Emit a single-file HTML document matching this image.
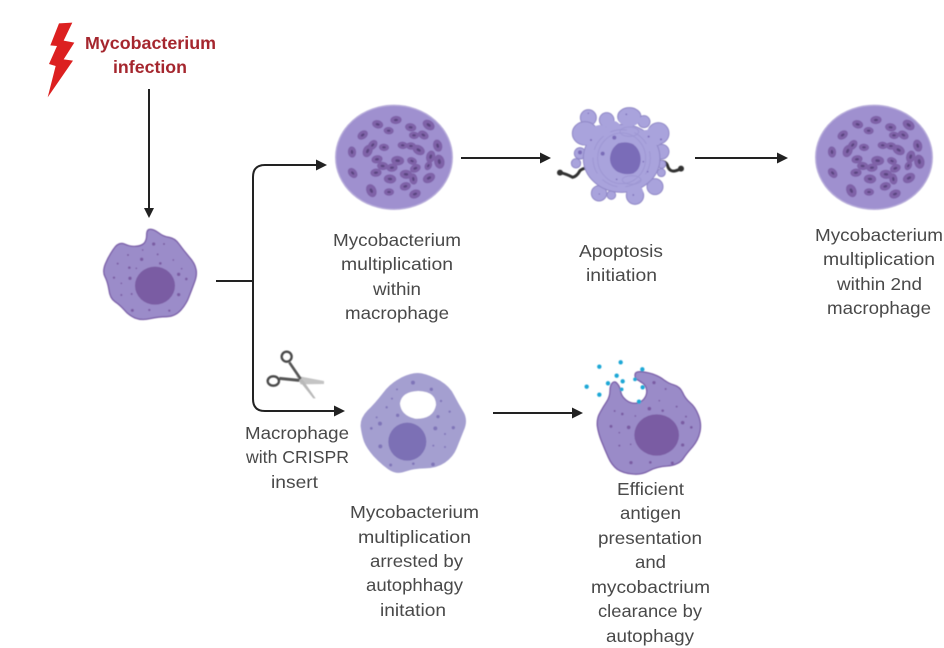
<!DOCTYPE html>
<html><head><meta charset="utf-8"><style>
html,body{margin:0;padding:0;background:#fff}
svg{display:block}
text{font-family:"Liberation Sans",sans-serif;font-size:17.5px;fill:#4a4a4a;text-anchor:middle}
.t{font-weight:bold;fill:#a5282e}
</style></head><body>
<svg width="944" height="648" viewBox="0 0 944 648" xmlns="http://www.w3.org/2000/svg">
<defs>
<filter id="s" x="-5%" y="-5%" width="110%" height="110%"><feGaussianBlur stdDeviation="1.800"/></filter>
<filter id="tx" filterUnits="userSpaceOnUse" x="0" y="0" width="944" height="648"><feGaussianBlur stdDeviation="0.300"/></filter>
<g id="b"><ellipse rx="17" ry="12.500" fill="#7f62a8"/><ellipse rx="6" ry="3.500" fill="#5a4480"/></g>
<g id="cell">
<ellipse cx="192" cy="187" rx="175" ry="156" fill="#9f90cf" stroke="#b9aedb" stroke-width="4"/>
<use href="#b" transform="translate(198 75) rotate(-5)"/>
<use href="#b" transform="translate(143 88) rotate(15)"/>
<use href="#b" transform="translate(176 107) rotate(5) scale(.9)"/>
<use href="#b" transform="translate(98 120) rotate(-35)"/>
<use href="#b" transform="translate(242 97) rotate(10)"/>
<use href="#b" transform="translate(296 90) rotate(35) scale(1.15)"/>
<use href="#b" transform="translate(252 121) rotate(5) scale(.9)"/>
<use href="#b" transform="translate(280 120) rotate(30)"/>
<use href="#b" transform="translate(323 152) rotate(75) scale(1.1)"/>
<use href="#b" transform="translate(66 171) rotate(85)"/>
<use href="#b" transform="translate(113 168) rotate(-65) scale(1.15)"/>
<use href="#b" transform="translate(128 150) rotate(-50)"/>
<use href="#b" transform="translate(162 157) rotate(5) scale(.9)"/>
<use href="#b" transform="translate(218 151) rotate(5) scale(.9)"/>
<use href="#b" transform="translate(243 153) rotate(5) scale(.9)"/>
<use href="#b" transform="translate(266 165) rotate(30) scale(1.15)"/>
<use href="#b" transform="translate(302 185) rotate(-75) scale(1.1)"/>
<use href="#b" transform="translate(328 200) rotate(80) scale(1.25)"/>
<use href="#b" transform="translate(295 212) rotate(-60) scale(.85)"/>
<use href="#b" transform="translate(141 193) rotate(-10)"/>
<use href="#b" transform="translate(158 213) rotate(5)"/>
<use href="#b" transform="translate(186 218) rotate(-5)"/>
<use href="#b" transform="translate(203 197) rotate(5) scale(1.15)"/>
<use href="#b" transform="translate(246 198) rotate(20) scale(.9)"/>
<use href="#b" transform="translate(256 220) rotate(-25)"/>
<use href="#b" transform="translate(228 238) rotate(5) scale(1.1)"/>
<use href="#b" transform="translate(250 252) rotate(80)"/>
<use href="#b" transform="translate(297 249) rotate(-30) scale(1.15)"/>
<use href="#b" transform="translate(68 234) rotate(50)"/>
<use href="#b" transform="translate(138 233) rotate(-5)"/>
<use href="#b" transform="translate(180 252) rotate(5) scale(1.1)"/>
<use href="#b" transform="translate(124 287) rotate(65) scale(1.2)"/>
<use href="#b" transform="translate(177 291) rotate(0) scale(.9)"/>
<use href="#b" transform="translate(226 274) rotate(-15)"/>
<use href="#b" transform="translate(255 297) rotate(-20) scale(1.05)"/>
</g>
</defs>

<!-- lightning -->
<polygon transform="translate(45 20) scale(.3333)" fill="#dc2020" points="42,10 82,8 56,62 88,68 56,118 84,122 8,232 32,138 12,132 36,78 16,76"/>

<!-- connectors -->
<g fill="none" stroke="#222" stroke-width="2">
<path d="M149 89V209"/>
<path d="M216 281H253"/>
<path d="M317 165H265Q253 165 253 177V399Q253 411 265 411H336"/>
<path d="M461 158H541"/>
<path d="M695 158H778"/>
<path d="M493 413H573"/>
</g>
<g fill="#222">
<polygon points="149,218 144,208 154,208"/>
<polygon points="327,165 316,159.500 316,170.500"/>
<polygon points="345,411 334,405.500 334,416.500"/>
<polygon points="551,158 540,152.500 540,163.500"/>
<polygon points="788,158 777,152.500 777,163.500"/>
<polygon points="583,413 572,407.500 572,418.500"/>
</g>

<!-- macrophage 1 -->
<g transform="translate(95 220) scale(.3333)" filter="url(#s)">
<path fill="#9b8cc9" stroke="#7a5fa8" stroke-width="4" d="M155,45 Q155,28 165,28 Q175,27 190,38 Q205,50 222,52 Q240,55 252,72 Q265,90 282,110 Q300,130 303,148 Q307,165 298,188 Q290,210 282,230 Q275,250 258,270 Q240,290 215,290 Q190,290 165,296 Q140,302 120,294 Q100,285 88,270 Q75,255 60,245 Q45,235 42,210 Q38,185 30,170 Q22,155 31,132 Q40,110 55,88 Q70,65 88,72 Q105,80 122,79 Q140,78 148,69 Q155,60 155,45Z"/>
<ellipse cx="180" cy="197" rx="60" ry="57" fill="#7a5ca3"/>
<g fill="#7a5ca3"><circle cx="176" cy="72" r="5"/><circle cx="207" cy="72" r="3"/><circle cx="140" cy="118" r="5"/><circle cx="99" cy="105" r="3"/><circle cx="143" cy="90" r="2.500"/><circle cx="188" cy="103" r="3"/><circle cx="196" cy="130" r="4"/><circle cx="235" cy="120" r="2.500"/><circle cx="68" cy="131" r="3"/><circle cx="103" cy="143" r="4"/><circle cx="124" cy="145" r="2.500"/><circle cx="260" cy="146" r="2.500"/><circle cx="251" cy="163" r="5"/><circle cx="274" cy="177" r="4"/><circle cx="57" cy="173" r="3.500"/><circle cx="105" cy="175" r="5"/><circle cx="79" cy="190" r="2.500"/><circle cx="251" cy="224" r="5"/><circle cx="79" cy="225" r="3"/><circle cx="110" cy="222" r="3"/><circle cx="112" cy="271" r="4.500"/><circle cx="163" cy="270" r="3.500"/><circle cx="223" cy="272" r="3.500"/></g>
</g>

<!-- multiplying cells -->
<g transform="translate(330 95) scale(.3333)" filter="url(#s)"><use href="#cell"/></g>
<g transform="translate(810 95) scale(.3333)" filter="url(#s)"><use href="#cell"/></g>

<!-- apoptosis -->
<g transform="translate(570 105) scale(.3333)" filter="url(#s)">
<g fill="none" stroke="#333" stroke-width="9" stroke-linecap="round"><path d="M-28,203 Q-10,207 8,217 Q20,215 30,197 Q44,185 60,193"/><path d="M260,170 Q285,165 292,180 Q298,203 318,197 L335,191"/></g>
<circle cx="-30" cy="203" r="9" fill="#333"/><circle cx="333" cy="191" r="9" fill="#333"/>
<g fill="#a9a3dc" stroke="#8f87c6" stroke-width="3">
<circle cx="55" cy="38" r="24"/><circle cx="110" cy="45" r="22"/><ellipse cx="178" cy="35" rx="35" ry="27"/>
<circle cx="222" cy="50" r="18"/><ellipse cx="45" cy="85" rx="38" ry="35"/><circle cx="265" cy="85" r="32"/>
<circle cx="30" cy="145" r="17"/><circle cx="18" cy="175" r="14"/><circle cx="275" cy="140" r="22"/>
<circle cx="275" cy="178" r="12"/><circle cx="274" cy="203" r="12"/><circle cx="255" cy="245" r="24"/>
<circle cx="87" cy="265" r="23"/><circle cx="124" cy="270" r="13"/><circle cx="195" cy="272" r="26"/>
<ellipse cx="155" cy="160" rx="115" ry="102"/>
</g>
<g fill="#a9a3dc"><ellipse cx="48" cy="88" rx="36" ry="32"/><ellipse cx="178" cy="40" rx="33" ry="24"/><circle cx="255" cy="92" r="29"/><circle cx="130" cy="70" r="22"/><circle cx="195" cy="262" r="24"/><ellipse cx="155" cy="160" rx="112" ry="99"/><circle cx="90" cy="90" r="30"/><circle cx="230" cy="100" r="25"/></g>
<g fill="none" stroke="#9c95d2" stroke-width="2.500"><ellipse cx="155" cy="160" rx="72" ry="76"/><ellipse cx="155" cy="160" rx="86" ry="86" stroke-dasharray="50 24"/><ellipse cx="178" cy="80" rx="28" ry="14"/><ellipse cx="185" cy="225" rx="28" ry="13"/></g>
<path fill="#7a6cb8" d="M145,115 Q170,108 190,118 Q212,135 212,165 Q210,195 190,205 Q165,212 142,200 Q120,185 120,160 Q122,130 145,115Z"/>
<g fill="#7a6cb8"><circle cx="133" cy="98" r="6"/><circle cx="98" cy="146" r="6"/><circle cx="30" cy="142" r="6"/><circle cx="63" cy="105" r="3"/><circle cx="55" cy="25" r="2"/><circle cx="169" cy="28" r="2.500"/><circle cx="236" cy="95" r="3"/><circle cx="273" cy="103" r="3"/><circle cx="220" cy="170" r="2.500"/><circle cx="233" cy="200" r="2.500"/><circle cx="140" cy="223" r="2.500"/><circle cx="190" cy="270" r="2.500"/><circle cx="88" cy="267" r="2"/></g>
</g>

<!-- scissors -->
<g transform="translate(260 345) scale(.3333)" fill="none" filter="url(#s)">
<polygon points="108,92 192,108 192,117 122,118" fill="#c4c4c4"/>
<polygon points="112,100 128,104 167,160 160,160" fill="#b8b8b8"/>
<path d="M58,100 L118,106" stroke="#555" stroke-width="9"/>
<path d="M88,52 L122,102" stroke="#555" stroke-width="8"/>
<circle cx="80" cy="35" r="15" stroke="#4a4a4a" stroke-width="7"/>
<ellipse cx="40" cy="108" rx="17" ry="14" stroke="#4a4a4a" stroke-width="7"/>
</g>

<!-- autophagy cell -->
<g transform="translate(250 340) scale(.3333)" filter="url(#s)">
<path fill="#a49fd0" d="M455,112 Q490,95 515,100 Q540,105 570,122 Q600,140 612,165 Q625,190 640,215 Q655,240 642,270 Q630,300 620,325 Q610,350 585,368 Q560,385 525,385 Q490,385 465,395 Q440,405 415,388 Q390,370 370,348 Q350,325 342,305 Q335,285 332,260 Q330,235 352,212 Q375,190 398,160 Q420,130 455,112Z"/>
<path fill="#fff" d="M450,190 Q455,155 505,153 Q558,155 558,195 Q550,238 495,236 Q452,225 450,190Z"/>
<circle cx="472" cy="305" r="57" fill="#7b70b5"/>
<g fill="#7f74b8"><circle cx="489" cy="128" r="6"/><circle cx="441" cy="148" r="3"/><circle cx="544" cy="148" r="5"/><circle cx="426" cy="176" r="3"/><circle cx="573" cy="183" r="3.500"/><circle cx="410" cy="202" r="3.500"/><circle cx="443" cy="226" r="5"/><circle cx="599" cy="215" r="3.500"/><circle cx="564" cy="230" r="5"/><circle cx="380" cy="232" r="3"/><circle cx="390" cy="251" r="6"/><circle cx="364" cy="265" r="4"/><circle cx="556" cy="265" r="6"/><circle cx="610" cy="263" r="5"/><circle cx="585" cy="282" r="3"/><circle cx="391" cy="319" r="6"/><circle cx="550" cy="317" r="3"/><circle cx="585" cy="321" r="3"/><circle cx="422" cy="375" r="4.500"/><circle cx="490" cy="371" r="4"/><circle cx="549" cy="373" r="5.500"/></g>
</g>

<!-- phagocytosing macrophage -->
<g transform="translate(570 350) scale(.3333)" filter="url(#s)">
<path fill="#9a8bc8" stroke="#7a5fa8" stroke-width="4" d="M200,88 Q195,85 195,75 Q195,65 210,65 Q225,65 248,72 Q270,80 282,90 Q295,100 312,105 Q330,110 338,128 Q345,145 360,158 Q375,170 385,195 Q395,220 390,245 Q385,270 368,290 Q350,310 338,328 Q325,345 292,348 Q260,350 238,362 Q215,375 188,372 Q160,370 142,358 Q125,345 115,322 Q105,300 95,275 Q85,250 82,228 Q80,205 90,188 Q100,170 110,155 Q120,140 120,122 Q120,105 128,98 Q135,92 142,101 Q150,110 152,125 Q155,140 168,150 Q180,160 195,160 Q210,160 221,148 Q232,135 230,120 Q228,105 216,98 Q205,90 200,88Z"/>
<ellipse cx="260" cy="255" rx="67" ry="62" fill="#7a5ca3"/>
<g fill="#7a5ca3"><circle cx="252" cy="98" r="5"/><circle cx="287" cy="117" r="3"/><circle cx="268" cy="152" r="2.500"/><circle cx="238" cy="176" r="5.500"/><circle cx="278" cy="182" r="4"/><circle cx="320" cy="170" r="3"/><circle cx="134" cy="183" r="3"/><circle cx="157" cy="192" r="4"/><circle cx="196" cy="198" r="2.500"/><circle cx="348" cy="200" r="3"/><circle cx="338" cy="218" r="5.500"/><circle cx="364" cy="232" r="4"/><circle cx="123" cy="229" r="4.500"/><circle cx="176" cy="232" r="5.500"/><circle cx="148" cy="248" r="2.500"/><circle cx="148" cy="287" r="3"/><circle cx="182" cy="283" r="2.500"/><circle cx="338" cy="285" r="5"/><circle cx="183" cy="338" r="5"/><circle cx="241" cy="337" r="4"/><circle cx="307" cy="339" r="4.500"/></g>
<g fill="#1ba7d6"><circle cx="88" cy="50" r="6.500"/><circle cx="152" cy="37" r="6.500"/><circle cx="50" cy="110" r="6.500"/><circle cx="88" cy="134" r="6.500"/><circle cx="114" cy="100" r="6.500"/><circle cx="140" cy="77" r="6.500"/><circle cx="158" cy="94" r="6.500"/><circle cx="155" cy="118" r="5.500"/><circle cx="195" cy="88" r="5.500"/><circle cx="217" cy="58" r="6.500"/><circle cx="218" cy="112" r="6.500"/><circle cx="207" cy="155" r="6.500"/></g>
</g>

<!-- labels -->
<g filter="url(#tx)">
<text class="t" x="150.500" y="49" textLength="131" lengthAdjust="spacingAndGlyphs">Mycobacterium</text>
<text class="t" x="150" y="73" textLength="74" lengthAdjust="spacingAndGlyphs">infection</text>

<text x="397" y="246" textLength="128" lengthAdjust="spacingAndGlyphs">Mycobacterium</text>
<text x="397" y="270" textLength="112" lengthAdjust="spacingAndGlyphs">multiplication</text>
<text x="397" y="295" textLength="48" lengthAdjust="spacingAndGlyphs">within</text>
<text x="397" y="319" textLength="104" lengthAdjust="spacingAndGlyphs">macrophage</text>

<text x="621" y="257" textLength="84" lengthAdjust="spacingAndGlyphs">Apoptosis</text>
<text x="621.500" y="281" textLength="71" lengthAdjust="spacingAndGlyphs">initiation</text>

<text x="879" y="241" textLength="128" lengthAdjust="spacingAndGlyphs">Mycobacterium</text>
<text x="879" y="265" textLength="112" lengthAdjust="spacingAndGlyphs">multiplication</text>
<text x="879.500" y="290" textLength="85" lengthAdjust="spacingAndGlyphs">within 2nd</text>
<text x="879" y="314" textLength="104" lengthAdjust="spacingAndGlyphs">macrophage</text>

<text x="297" y="439" textLength="104" lengthAdjust="spacingAndGlyphs">Macrophage</text>
<text x="297.500" y="463" textLength="103" lengthAdjust="spacingAndGlyphs">with CRISPR</text>
<text x="294.500" y="488" textLength="47" lengthAdjust="spacingAndGlyphs">insert</text>

<text x="414.500" y="518" textLength="129" lengthAdjust="spacingAndGlyphs">Mycobacterium</text>
<text x="414.500" y="543" textLength="113" lengthAdjust="spacingAndGlyphs">multiplication</text>
<text x="416.500" y="567" textLength="93" lengthAdjust="spacingAndGlyphs">arrested by</text>
<text x="414.500" y="591" textLength="97" lengthAdjust="spacingAndGlyphs">autophhagy</text>
<text x="413" y="616" textLength="66" lengthAdjust="spacingAndGlyphs">initation</text>

<text x="650.500" y="495" textLength="67" lengthAdjust="spacingAndGlyphs">Efficient</text>
<text x="650.500" y="519" textLength="61" lengthAdjust="spacingAndGlyphs">antigen</text>
<text x="650" y="544" textLength="104" lengthAdjust="spacingAndGlyphs">presentation</text>
<text x="650.500" y="568" textLength="31" lengthAdjust="spacingAndGlyphs">and</text>
<text x="650.500" y="593" textLength="119" lengthAdjust="spacingAndGlyphs">mycobactrium</text>
<text x="650" y="617" textLength="104" lengthAdjust="spacingAndGlyphs">clearance by</text>
<text x="650" y="642" textLength="88" lengthAdjust="spacingAndGlyphs">autophagy</text>
</g>
</svg>
</body></html>
